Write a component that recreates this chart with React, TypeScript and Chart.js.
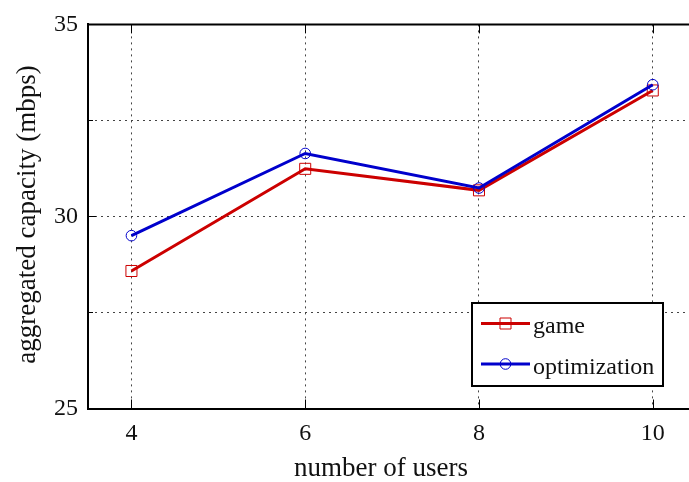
import React, { useEffect, useRef } from "react";
import { Chart, registerables } from "chart.js";

Chart.register(...registerables);

const userCounts = [4, 6, 8, 10];
const gameCapacity = [28.58, 31.24, 30.68, 33.28];
const optimizationCapacity = [29.5, 31.64, 30.74, 33.43];
const xTickValues = [4, 6, 8, 10];
const yGridValues = [25, 27.5, 30, 32.5, 35];
const yLabelValues = [25, 30, 35];

const seriesNames = ["game", "optimization"];
const RED = "rgb(204,0,0)";
const BLUE = "rgb(0,0,204)";
const FONT = "'Liberation Serif', 'Times New Roman', serif";

// Frame, inward ticks, axis titles and the boxed legend
const decorations = {
  id: "decorations",
  afterDatasetsDraw(chart: any) {
    const { ctx, chartArea } = chart;
    const xs = chart.scales.x;
    const ys = chart.scales.y;
    ctx.save();
    ctx.strokeStyle = "#000";
    ctx.lineWidth = 1;
    // inward tick marks on the x axis (bottom and top)
    for (const v of xTickValues) {
      const px = Math.round(xs.getPixelForValue(v)) + 0.5;
      ctx.beginPath();
      ctx.moveTo(px, chartArea.bottom);
      ctx.lineTo(px, chartArea.bottom - 9);
      ctx.moveTo(px, chartArea.top);
      ctx.lineTo(px, chartArea.top + 9);
      ctx.stroke();
    }
    // inward tick marks on the y axis
    for (const v of yGridValues) {
      const py = Math.round(ys.getPixelForValue(v)) + 0.5;
      const len = yLabelValues.includes(v) ? 8 : 5;
      ctx.beginPath();
      ctx.moveTo(chartArea.left, py);
      ctx.lineTo(chartArea.left + len, py);
      ctx.stroke();
    }
    // top frame line
    ctx.lineWidth = 2;
    ctx.beginPath();
    ctx.moveTo(chartArea.left - 1, chartArea.top);
    ctx.lineTo(chartArea.right + 10, chartArea.top);
    ctx.stroke();

    // axis titles
    ctx.fillStyle = "#111";
    ctx.font = `27px ${FONT}`;
    ctx.textAlign = "center";
    ctx.textBaseline = "alphabetic";
    ctx.fillText("number of users", 381, 476);
    ctx.save();
    ctx.translate(35, (chartArea.top + chartArea.bottom) / 2 - 2);
    ctx.rotate(-Math.PI / 2);
    ctx.fillText("aggregated capacity (mbps)", 0, 0);
    ctx.restore();

    // legend
    const bx = 472, by = 303, bw = 191, bh = 83;
    ctx.fillStyle = "#fff";
    ctx.fillRect(bx, by, bw, bh);
    ctx.lineWidth = 2;
    ctx.strokeStyle = "#000";
    ctx.strokeRect(bx, by, bw, bh);
    const rows = [
      { name: seriesNames[0], color: RED, y: 323.5, marker: "rect" },
      { name: seriesNames[1], color: BLUE, y: 364, marker: "circle" },
    ];
    for (const r of rows) {
      ctx.strokeStyle = r.color;
      ctx.lineWidth = 3;
      ctx.beginPath();
      ctx.moveTo(481, r.y);
      ctx.lineTo(530, r.y);
      ctx.stroke();
      ctx.lineWidth = 1;
      ctx.beginPath();
      if (r.marker === "rect") {
        ctx.rect(500, r.y - 5.5, 11, 11);
      } else {
        ctx.arc(505.5, r.y, 5.3, 0, Math.PI * 2);
      }
      ctx.stroke();
      ctx.fillStyle = "#111";
      ctx.font = `24px ${FONT}`;
      ctx.textAlign = "left";
      ctx.textBaseline = "alphabetic";
      ctx.fillText(r.name, 533, r.y + 9.5);
    }
    ctx.restore();
  },
};

export default function App() {
  const canvasRef = useRef<HTMLCanvasElement | null>(null);

  useEffect(() => {
    const canvas = canvasRef.current;
    if (!canvas) return;
    const chart = new Chart(canvas, {
      type: "line",
      data: {
        datasets: [
          {
            label: seriesNames[0],
            data: userCounts.map((u, i) => ({ x: u, y: gameCapacity[i] })),
            borderColor: RED,
            borderWidth: 3,
            pointStyle: "rect",
            pointRadius: 7.8,
            pointBorderWidth: 1,
            pointBorderColor: RED,
            pointBackgroundColor: "rgba(0,0,0,0)",
            tension: 0,
            order: 2,
          },
          {
            label: seriesNames[1],
            data: userCounts.map((u, i) => ({ x: u, y: optimizationCapacity[i] })),
            borderColor: BLUE,
            borderWidth: 3,
            pointStyle: "circle",
            pointRadius: 5.3,
            pointBorderWidth: 1,
            pointBorderColor: BLUE,
            pointBackgroundColor: "rgba(0,0,0,0)",
            tension: 0,
            order: 1,
          },
        ],
      },
      options: {
        animation: false,
        responsive: false,
        devicePixelRatio: 1,
        layout: { padding: { top: 24, right: 0, left: 0, bottom: 0 } },
        plugins: {
          legend: { display: false },
          tooltip: { enabled: false },
        },
        scales: {
          x: {
            type: "linear",
            min: 3.5,
            max: 10.5,
            afterBuildTicks: (s: any) => {
              s.ticks = xTickValues.map((v) => ({ value: v }));
            },
            afterFit: (s: any) => {
              s.height = 73.5;
            },
            grid: {
              drawTicks: false,
              color: "#444",
              lineWidth: 1,
            },
            border: { display: true, color: "#000", width: 2, dash: [2, 4] },
            ticks: {
              padding: 11,
              color: "#111",
              font: { family: FONT, size: 24 },
              maxRotation: 0,
              callback: (v: any) => String(v),
            },
          },
          y: {
            type: "linear",
            min: 25,
            max: 35,
            afterBuildTicks: (s: any) => {
              s.ticks = yGridValues.map((v) => ({ value: v }));
            },
            afterFit: (s: any) => {
              s.width = 88;
            },
            grid: {
              drawTicks: false,
              color: "#444",
              lineWidth: 1,
            },
            border: { display: true, color: "#000", width: 2, dash: [2, 4] },
            ticks: {
              padding: 10,
              color: "#111",
              font: { family: FONT, size: 24 },
              callback: (v: any) => (yLabelValues.includes(Number(v)) ? String(v) : ""),
            },
          },
        },
      },
      plugins: [decorations],
    } as any);
    return () => chart.destroy();
  }, []);

  return (
    <div
      style={{
        position: "absolute",
        left: 0,
        top: 0,
        width: 689,
        height: 482,
        overflow: "hidden",
        background: "#fff",
      }}
    >
      <canvas ref={canvasRef} width={705} height={482} style={{ display: "block" }} />
    </div>
  );
}
